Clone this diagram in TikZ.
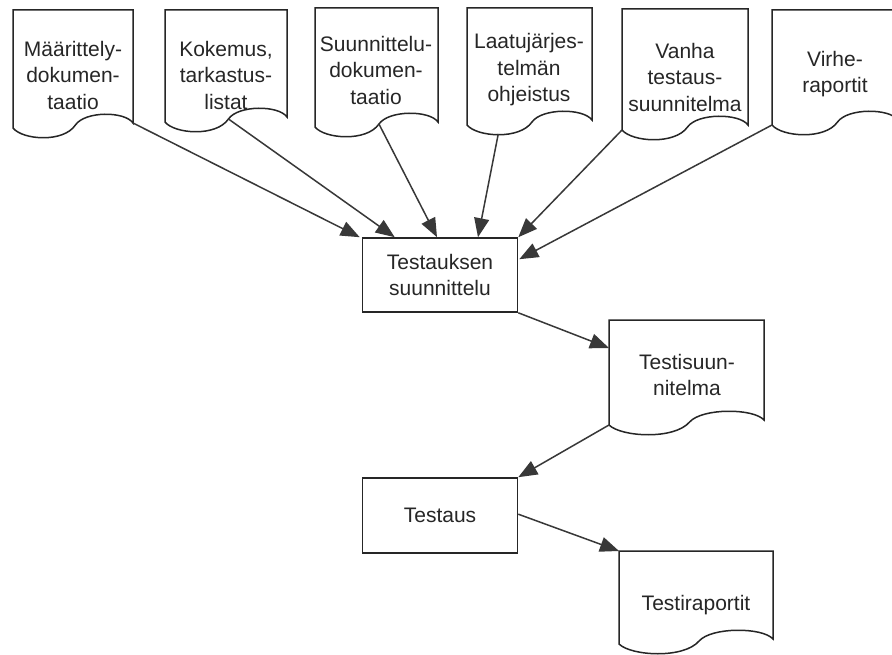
\documentclass[tikz,border=0pt]{standalone}
\usepackage{fontspec}
\setmainfont{Liberation Sans}
\usetikzlibrary{arrows.meta,calc}
\tikzset{
  docline/.style={draw=black!85, line width=1.5pt, fill=white},
  doctext/.style={align=center, text=black!85, font=\fontsize{21}{26.5}\selectfont, inner sep=0pt},
  procbox/.style={draw=black!85, line width=1.6pt, fill=white, minimum width=155pt, align=center, text=black!85, font=\fontsize{21}{26}\selectfont},
  conn/.style={draw=black!78, line width=1.5pt, -{Triangle[length=19pt,width=15pt]}}
}
% #1 L, #2 R, #3 T, #4 B (left bottom), #5 name
\newcommand\docshape[5]{%
  \draw[docline] (#1,#3) -- (#1,#4)
    .. controls ({#1+0.08*(#2-#1)},{#4+12}) and ({#1+0.42*(#2-#1)},{#4+15}) .. ({#1+0.52*(#2-#1)},{#4-3})
    .. controls ({#1+0.6*(#2-#1)},{#4-17}) and ({#1+0.93*(#2-#1)},{#4-17}) .. (#2,{#4-5})
    -- (#2,#3) -- cycle;
  \coordinate (#5-lb) at (#1,#4);
  \coordinate (#5-mid) at ({#1+0.52*(#2-#1)},{#4-3});
  \coordinate (#5-rb) at (#2,{#4-5});
  \coordinate (#5-tr) at ({#1+0.25*(#2-#1)},{#4+9});
}
\begin{document}
\begin{tikzpicture}[x=1pt,y=-1pt]
\useasboundingbox (0,0) rectangle (892,655);
\fill[white] (0,0) rectangle (892,655);

% source documents
\docshape{13}{133}{10}{128}{d1}
\node[doctext] (n1) at (73,75) {Määrittely-\\dokumen-\\taatio};
\docshape{165}{287}{10}{122}{d2}
\node[doctext] (n2) at (226,75) {Kokemus,\\tarkastus-\\listat};
\docshape{315}{438}{8}{127}{d3}
\node[doctext] (n3) at (376,70) {Suunnittelu-\\dokumen-\\taatio};
\docshape{467}{592}{8}{125}{d4}
\node[doctext] (n4) at (529,70) {Laatujärjes-\\telmän\\ohjeistus};
\docshape{622}{748}{9}{130}{d5}
\node[doctext] (n5) at (685,77) {Vanha\\testaus-\\suunnitelma};
\docshape{772}{898}{10}{125}{d6}
\node[doctext] (n6) at (835,74) {Virhe-\\raportit};

% process boxes
\node[procbox, minimum height=74pt] (ts) at (440,275) {Testauksen\\suunnittelu};
\node[procbox, minimum height=75pt] (ta) at (440,515.5) {Testaus};

% output documents
\docshape{609}{764}{320}{425}{dp}
\node[doctext] (tp) at (687,375) {Testisuun-\\nitelma};
\docshape{619}{773}{551}{644}{dr}
\node[doctext] (tr) at (696,605) {Testiraportit};

% connectors
\draw[conn] (d1-rb) -- ($(ts.north west)+(-2,0)$);
\draw[conn] (d2-mid) -- ($(ts.north west)+(33,0)$);
\draw[conn] (d3-mid) -- ($(ts.north)+(-3,0)$);
\draw[conn] (d4-tr) -- ($(ts.north)+(38,0)$);
\draw[conn] (d5-lb) -- (ts.north east);
\draw[conn] (d6-lb) -- ($(ts.north east)+(1,22)$);
\draw[conn] (ts.south east) -- ($(dp-lb)+(0,-77)$);
\draw[conn] (dp-lb) -- (ta.north east);
\draw[conn] ($(ta.north east)+(0,37)$) -- ($(dr-lb)+(0,-93)$);
\end{tikzpicture}
\end{document}
